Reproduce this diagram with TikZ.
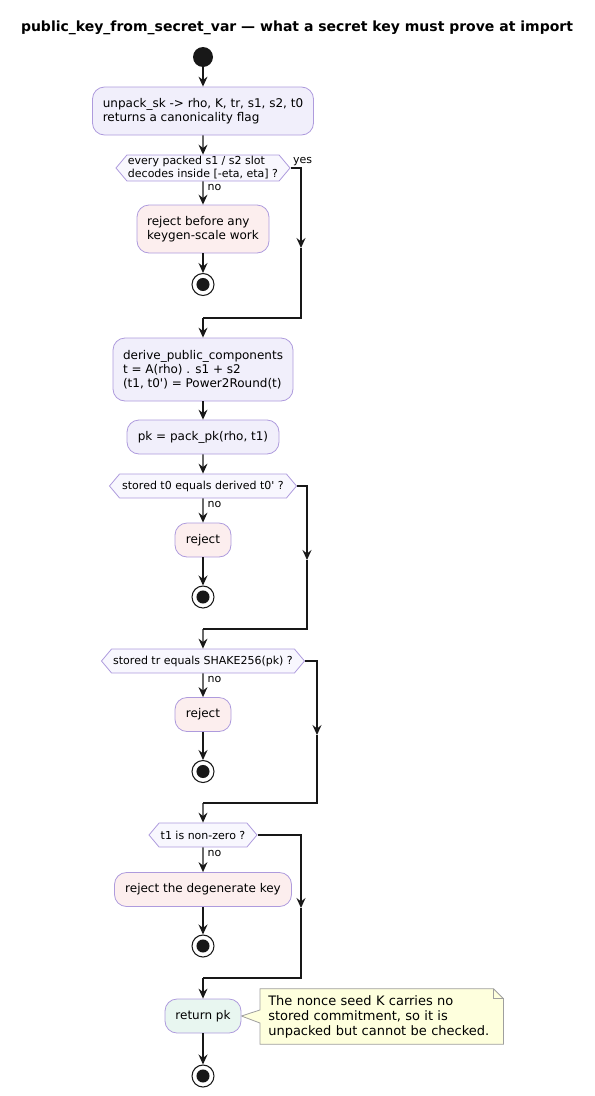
\documentclass[tikz,border=0pt]{standalone}
\usepackage{fontspec}
\setmainfont{DejaVu Sans}
\usetikzlibrary{arrows.meta, shapes.symbols, backgrounds}
\definecolor{actfill}{HTML}{F1EFFB}
\definecolor{rejfill}{HTML}{FCEEEE}
\definecolor{okfill}{HTML}{E8F6F0}
\definecolor{condfill}{HTML}{F8F7FE}
\definecolor{actline}{HTML}{AE9BDD}
\definecolor{notefill}{HTML}{FEFFDD}
\definecolor{lin}{HTML}{181818}
\tikzset{
    act/.style   = {draw=actline, fill=actfill, rectangle, rounded corners=9pt, line width=0.6pt, inner sep=0pt, align=left, font=\fontsize{9}{10.5}\selectfont},
    rej/.style   = {act, fill=rejfill},
    ok/.style    = {act, fill=okfill},
    cond/.style  = {draw=actline, fill=condfill, signal, signal to=west and east, signal pointer angle=100, line width=0.6pt, inner sep=0pt, align=left, font=\fontsize{8.25}{9.75}\selectfont},
    lbl/.style   = {inner sep=1.5pt, xshift=1.5pt, font=\fontsize{8.25}{9.75}\selectfont},
    flow/.style  = {draw=lin, line width=0.95pt, -{Stealth[length=7.5pt, width=6.75pt, inset=2.6pt]}},
    wire/.style  = {draw=lin, line width=0.95pt},
    begin/.style = {circle, fill=lin, minimum size=15pt, inner sep=0pt},
    stop/.style  = {circle, draw=lin, line width=0.8pt, minimum size=16.5pt, inner sep=0pt, path picture={\fill[lin] (path picture bounding box.center) circle (4.9pt);}},
    memo/.style  = {anchor=west, text width=170.25pt, inner xsep=6pt, minimum height=41.25pt, align=left, font=\fontsize{9.75}{11.25}\selectfont},
}

\begin{document}
\begin{tikzpicture}[x=0.75pt, y=-0.75pt]
  \useasboundingbox (0,0) rectangle (594,1096);
  \node [name=title, font=\fontsize{10.5}{12}\selectfont\bfseries] at (297,28) {public\_key\_from\_secret\_var — what a secret key must prove at import};

  \node [name=go, begin] at (203,57) {};
  \node [name=unpack, act, minimum width=165.75pt, minimum height=36pt] at (203,111) {unpack\_sk -> rho, K, tr, s1, s2, t0\\returns a canonicality flag};
  \node [name=q1, cond, minimum width=130.5pt, minimum height=19.5pt] at (203,168) {every packed s1 / s2 slot\\decodes inside [-eta, eta] ?};
  \node [name=rej1, rej, minimum width=99pt, minimum height=36pt] at (203,229) {reject before any\\keygen-scale work};
  \node [name=end1, stop] at (203,284.5) {};
  \node [name=derive, act, minimum width=135pt, minimum height=47.25pt] at (203,369.5) {derive\_public\_components\\t = A(rho) . s1 + s2\\(t1, t0\textquotesingle) = Power2Round(t)};
  \node [name=pack, act, minimum width=114pt, minimum height=25.5pt] at (203,437) {pk = pack\_pk(rho, t1)};
  \node [name=q2, cond, minimum width=140.25pt, minimum height=18pt] at (203,486) {stored t0 equals derived t0\textquotesingle\ ?};
  \node [name=rej2, rej, minimum width=42pt, minimum height=25.5pt] at (203,540) {reject};
  \node [name=end2, stop] at (203,597) {};
  \node [name=q3, cond, minimum width=152.25pt, minimum height=18pt] at (203,661) {stored tr equals SHAKE256(pk) ?};
  \node [name=rej3, rej, minimum width=42pt, minimum height=25.5pt] at (203,714.5) {reject};
  \node [name=end3, stop] at (203,771.5) {};
  \node [name=q4, cond, minimum width=81pt, minimum height=18pt] at (203,835) {t1 is non-zero ?};
  \node [name=rej4, rej, minimum width=132.75pt, minimum height=25.5pt] at (203,889.5) {reject the degenerate key};
  \node [name=end4, stop] at (203,946) {};
  \node [name=ret, ok, minimum width=57pt, minimum height=25.5pt] at (203,1016) {return pk};
  \node [name=end5, stop] at (203,1076) {};
  \node [name=memo, memo] at (260,1016.5) {The nonce seed K carries no\\stored commitment, so it is\\unpacked but cannot be checked.};
  \begin{scope}[on background layer]
    \draw [fill=notefill, draw=gray!75, line width=0.6pt] (memo.north west) -- ([xshift=-7.5pt]memo.north east) -- ([yshift=-7.5pt]memo.north east) -- (memo.south east) -- (memo.south west) -- ([yshift=-4.9pt]memo.west) -- (ret.east) -- ([yshift=4.9pt]memo.west) -- cycle;
  \end{scope}
  \draw [draw=gray!75, line width=0.6pt] ([xshift=-7.5pt]memo.north east) |- ([yshift=-7.5pt]memo.north east);

  \coordinate (a1) at (301,248);  \coordinate (m1) at (203,318);
  \coordinate (a2) at (307,560);  \coordinate (m2) at (203,629);
  \coordinate (a3) at (317,735);  \coordinate (m3) at (203,803);
  \coordinate (a4) at (301,908);  \coordinate (m4) at (203,978);

  \draw [flow] (go) -- (unpack);
  \draw [flow] (unpack) -- (q1);
  \draw [flow] (q1) -- (rej1) node [at start, anchor=north west, lbl] {no};
  \draw [flow] (rej1) -- (end1);
  \draw [flow] (q1.east) -| (a1) node [at start, anchor=south west, lbl, xshift=-1.5pt] {yes};
  \draw [wire] (a1) |- (m1);
  \draw [flow] (m1) -- (derive);
  \draw [flow] (derive) -- (pack);
  \draw [flow] (pack) -- (q2);
  \draw [flow] (q2) -- (rej2) node [at start, anchor=north west, lbl] {no};
  \draw [flow] (rej2) -- (end2);
  \draw [flow] (q2.east) -| (a2);
  \draw [wire] (a2) |- (m2);
  \draw [flow] (m2) -- (q3);
  \draw [flow] (q3) -- (rej3) node [at start, anchor=north west, lbl] {no};
  \draw [flow] (rej3) -- (end3);
  \draw [flow] (q3.east) -| (a3);
  \draw [wire] (a3) |- (m3);
  \draw [flow] (m3) -- (q4);
  \draw [flow] (q4) -- (rej4) node [at start, anchor=north west, lbl] {no};
  \draw [flow] (rej4) -- (end4);
  \draw [flow] (q4.east) -| (a4);
  \draw [wire] (a4) |- (m4);
  \draw [flow] (m4) -- (ret);
  \draw [flow] (ret) -- (end5);
\end{tikzpicture}
\end{document}
